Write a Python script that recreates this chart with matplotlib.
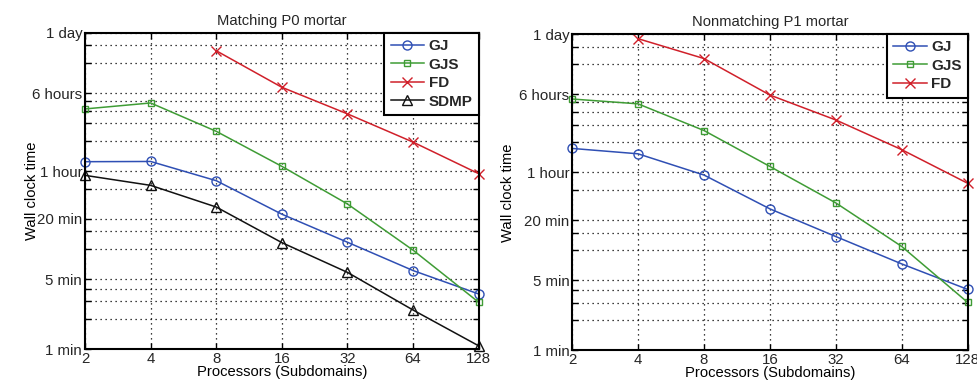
import matplotlib
matplotlib.use('Agg')
import matplotlib.pyplot as plt
from matplotlib.ticker import FixedLocator, FixedFormatter, NullLocator

plt.rcParams['font.family'] = ['Liberation Sans', 'DejaVu Sans']
plt.rcParams['text.color'] = '#262626'
plt.rcParams['xtick.labelcolor'] = '#262626'
plt.rcParams['ytick.labelcolor'] = '#262626'

# processors (subdomains)
procs = [2, 4, 8, 16, 32, 64, 128]

# wall clock times in minutes
# Matching P0 mortar
p0_gj = [74.6, 75.0, 48.2, 22.3, 11.7, 6.1, 3.56]
p0_gjs = [251, 288, 150, 67, 28.2, 9.75, 2.94]
p0_fd_procs = [8, 16, 32, 64, 128]
p0_fd = [957, 413, 224, 117, 56.6]
p0_sdmp = [54.5, 43.3, 26.3, 11.6, 5.85, 2.46, 1.08]

# Nonmatching P1 mortar
p1_gj = [104, 91.9, 56.4, 25.9, 13.7, 7.3, 4.06]
p1_gjs = [324, 290, 157, 68.7, 29.7, 10.9, 3.01]
p1_fd_procs = [4, 8, 16, 32, 64, 128]
p1_fd = [1298, 822, 355, 200, 101, 46.6]

# y ticks (minutes) and which get labels
ytick_vals = [1, 2, 3, 4, 5, 10, 15, 20, 40, 60, 120, 180, 240, 300, 360, 720, 1080, 1440]
ytick_text = {1: '1 min', 5: '5 min', 20: '20 min', 60: '1 hour', 360: '6 hours', 1440: '1 day'}

BLUE = '#2f4fb4'
GREEN = '#3f9c35'
RED = '#d0202a'
BLACK = '#111111'


def style_axes(ax, title, ylab_x):
    ax.set_xscale('log', base=2)
    ax.set_yscale('log')
    ax.set_xlim(2, 128)
    ax.set_ylim(1, 1440)
    ax.xaxis.set_major_locator(FixedLocator(procs))
    ax.xaxis.set_major_formatter(FixedFormatter([str(p) for p in procs]))
    ax.xaxis.set_minor_locator(NullLocator())
    ax.yaxis.set_major_locator(FixedLocator(ytick_vals))
    ax.yaxis.set_major_formatter(FixedFormatter([ytick_text.get(v, '') for v in ytick_vals]))
    ax.yaxis.set_minor_locator(NullLocator())
    ax.grid(True, which='major', linestyle=(0, (1, 3)), color='black', linewidth=0.9)
    ax.tick_params(direction='in', length=4, width=1, labelsize=10.8, pad=2,
                   top=True, right=True)
    for s in ax.spines.values():
        s.set_linewidth(1.5)
    ax.set_title(title, fontsize=10.6, pad=6)
    ax.set_xlabel('Processors (Subdomains)', fontsize=10.6, labelpad=-1)
    ax.set_ylabel('Wall clock time', fontsize=10.6)
    ax.yaxis.set_label_coords(ylab_x, 0.5)


fig = plt.figure(figsize=(9.77, 3.88), dpi=100)
ax1 = fig.add_axes([0.087, 0.100, 0.403, 0.815])
ax2 = fig.add_axes([0.5855, 0.097, 0.405, 0.815])

mk = dict(markerfacecolor='none', markersize=6.5, linewidth=1.1, markeredgewidth=1.0)

ax1.plot(procs, p0_gj, '-o', color=BLUE, label='GJ', **mk)
ax1.plot(procs, p0_gjs, '-s', color=GREEN, label='GJS', **dict(mk, markersize=5))
ax1.plot(p0_fd_procs, p0_fd, '-x', color=RED, label='FD', **mk)
ax1.plot(procs, p0_sdmp, '-^', color=BLACK, label='SDMP', **mk)
style_axes(ax1, 'Matching P0 mortar', -0.118)

ax2.plot(procs, p1_gj, '-o', color=BLUE, label='GJ', **mk)
ax2.plot(procs, p1_gjs, '-s', color=GREEN, label='GJS', **dict(mk, markersize=5))
ax2.plot(p1_fd_procs, p1_fd, '-x', color=RED, label='FD', **mk)
style_axes(ax2, 'Nonmatching P1 mortar', -0.145)

for ax in (ax1, ax2):
    for line in ax.get_lines():
        line.set_clip_on(False)
    leg = ax.legend(loc='upper right', prop={'weight': 'bold', 'size': 11},
                    fancybox=False, framealpha=1, edgecolor='black',
                    borderaxespad=0.0, handlelength=2.2, labelspacing=0.3,
                    handletextpad=0.3, borderpad=0.4)
    leg.get_frame().set_linewidth(1.5)

fig.savefig('out.png', dpi=100)
